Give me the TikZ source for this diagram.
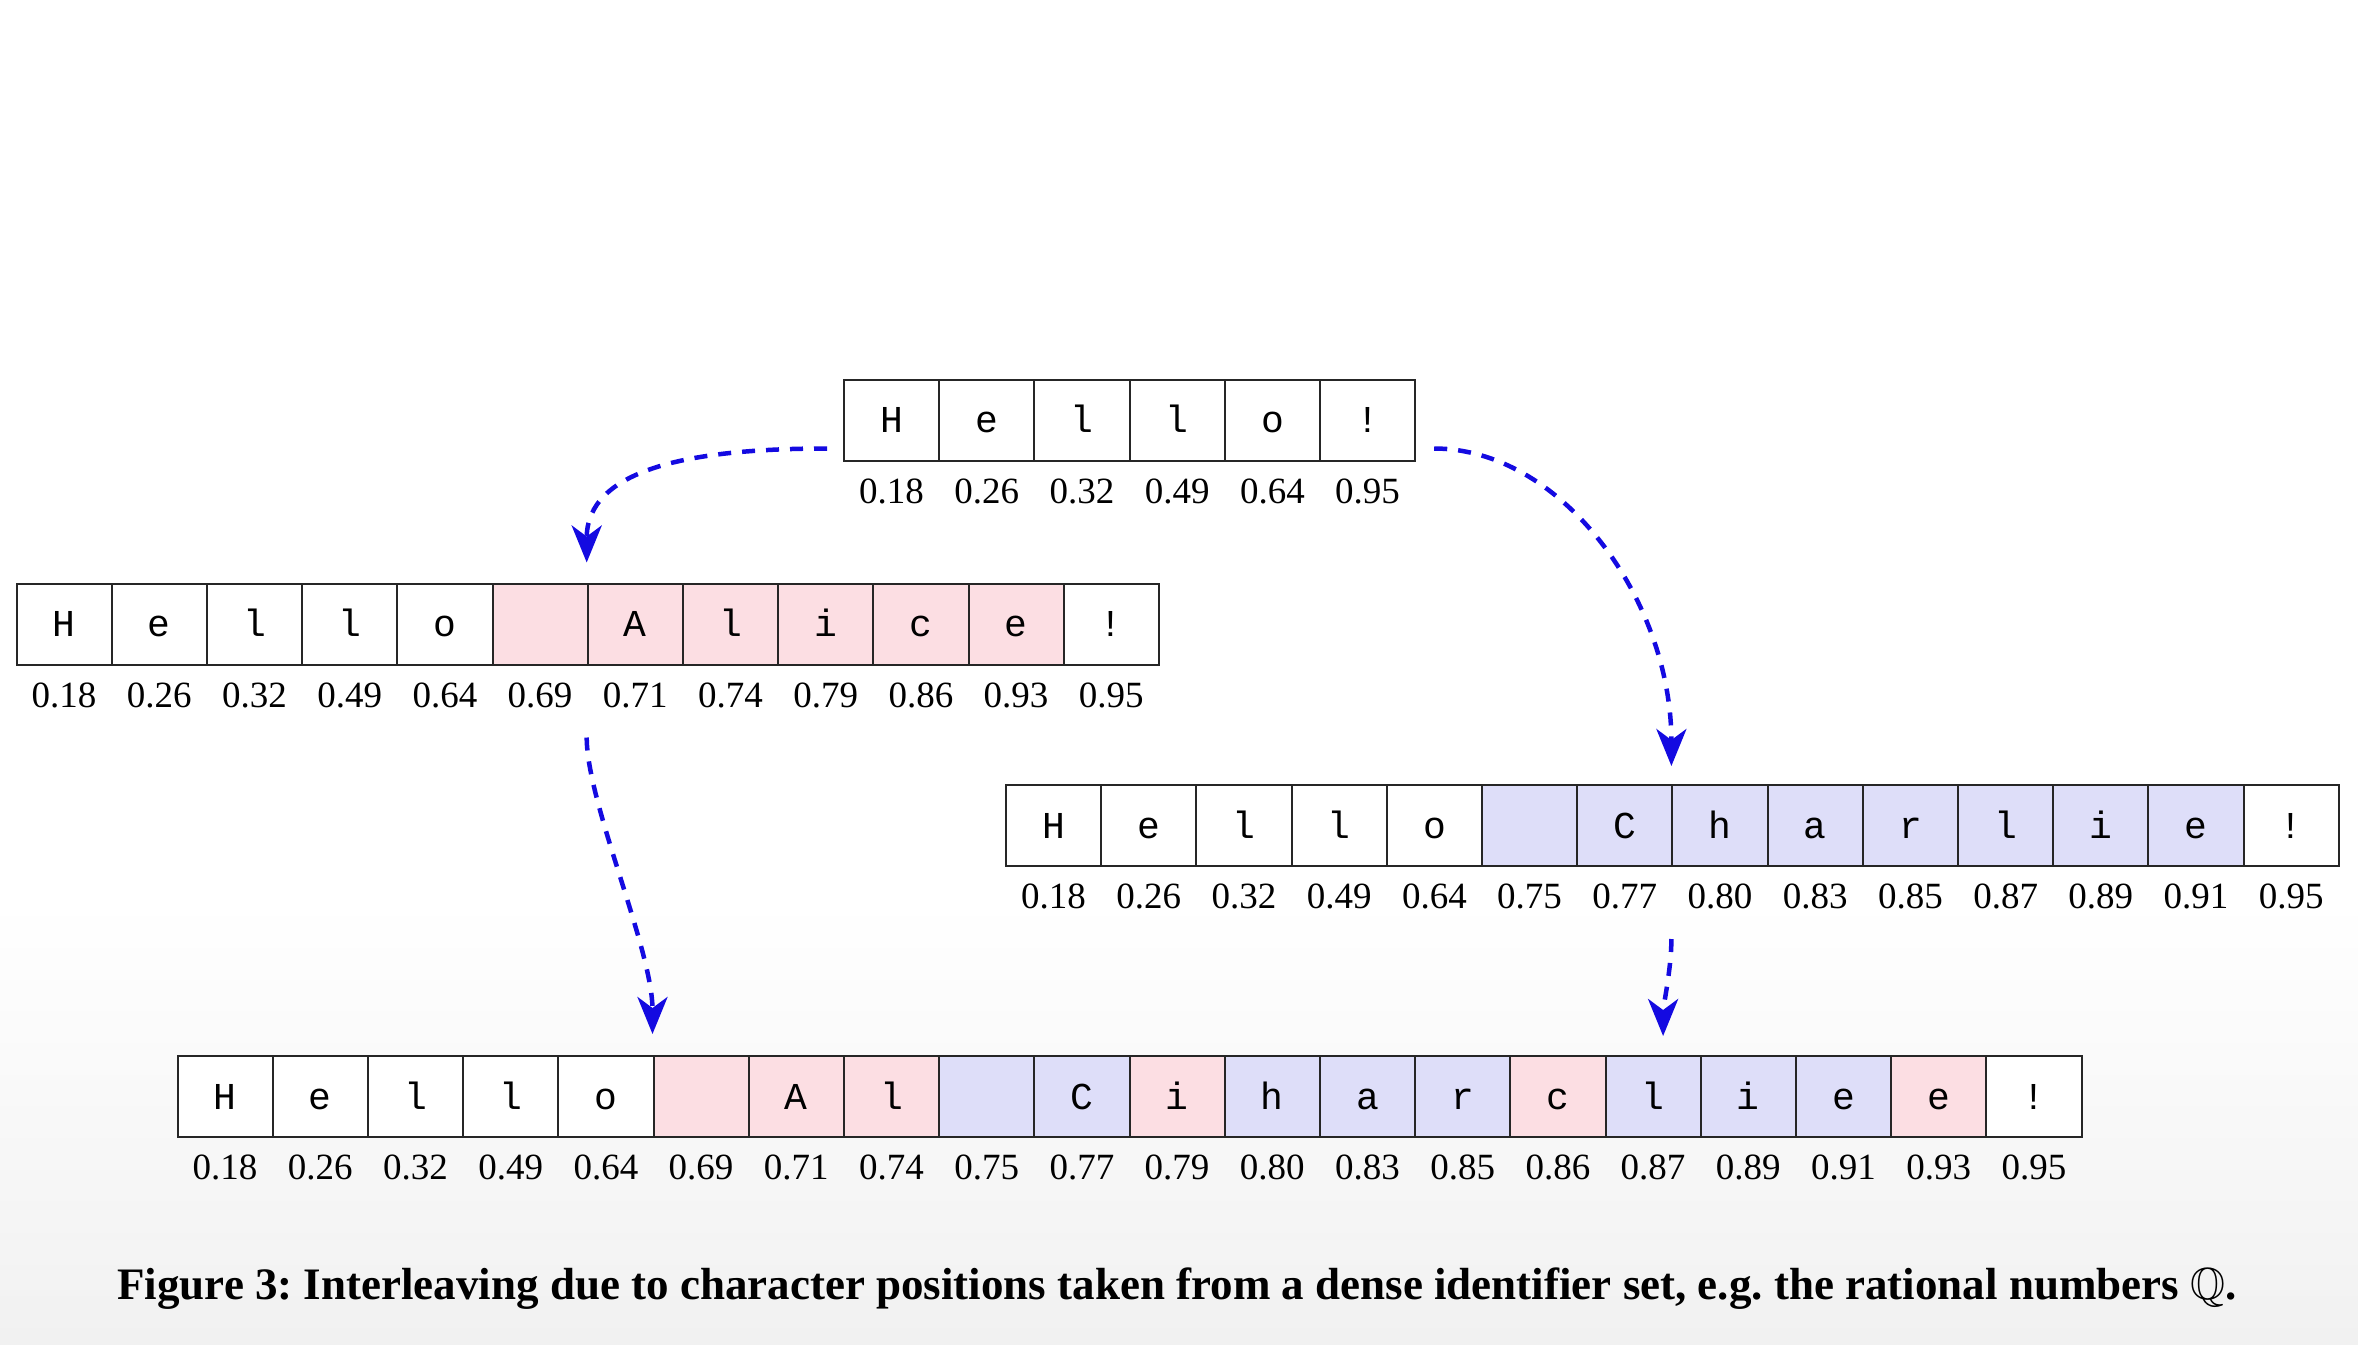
\documentclass[tikz,border=0pt]{standalone}
\usepackage{fontspec}
\usepackage{amssymb}
\setmainfont{Liberation Serif}
\setmonofont{Liberation Mono}
\usetikzlibrary{arrows.meta,calc}
\definecolor{pinkc}{RGB}{252,222,227}
\definecolor{bluec}{RGB}{222,222,249}
\definecolor{arrowblue}{RGB}{20,10,225}
\tikzset{
  cell/.style={draw=black!85, line width=2pt, minimum width=95.2pt, minimum height=81pt,
    inner sep=0pt, text height=25pt, text depth=0pt,
    font=\ttfamily\fontsize{38}{46}\selectfont},
  poslabel/.style={inner sep=0pt, text height=25pt, text depth=0pt,
    font=\fontsize{37}{43}\selectfont},
  flow/.style={draw=arrowblue, line width=4.5pt, dash pattern=on 13pt off 11pt,
    -{Stealth[length=37pt,width=30pt,inset=11pt]}}
}
\newcommand{\cellrow}[4]{% name, left, top, list
  \foreach \ch/\lab/\col [count=\i] in {#4} {
    \node[cell, fill=\col] (#1\i) at ({#2+95.2*(\i-0.5)}, {#3+40.5}) {\ch};
    \node[poslabel] (#1l\i) at ({#2+95.2*(\i-0.5)}, {#3+111}) {\lab};
  }
}
\begin{document}
\frenchspacing
\begin{tikzpicture}[x=1pt,y=-1pt]
\useasboundingbox (0,0) rectangle (2358,1344);
\fill[white] (0,0) rectangle (2358,1344);
\shade[top color=white, bottom color=gray!11] (0,900) rectangle (2358,1344);

\cellrow{T}{844}{379.5}{H/0.18/white, e/0.26/white, l/0.32/white, l/0.49/white, o/0.64/white, !/0.95/white}
\cellrow{A}{16.5}{583.5}{H/0.18/white, e/0.26/white, l/0.32/white, l/0.49/white, o/0.64/white, {}/0.69/pinkc, A/0.71/pinkc, l/0.74/pinkc, i/0.79/pinkc, c/0.86/pinkc, e/0.93/pinkc, !/0.95/white}
\cellrow{C}{1006}{785}{H/0.18/white, e/0.26/white, l/0.32/white, l/0.49/white, o/0.64/white, {}/0.75/bluec, C/0.77/bluec, h/0.80/bluec, a/0.83/bluec, r/0.85/bluec, l/0.87/bluec, i/0.89/bluec, e/0.91/bluec, !/0.95/white}
\cellrow{M}{177.5}{1056}{H/0.18/white, e/0.26/white, l/0.32/white, l/0.49/white, o/0.64/white, {}/0.69/pinkc, A/0.71/pinkc, l/0.74/pinkc, {}/0.75/bluec, C/0.77/bluec, i/0.79/pinkc, h/0.80/bluec, a/0.83/bluec, r/0.85/bluec, c/0.86/pinkc, l/0.87/bluec, i/0.89/bluec, e/0.91/bluec, e/0.93/pinkc, !/0.95/white}

\coordinate (s1) at ($(T1.south west)+(-16,-13)$);
\coordinate (e1) at ($(A7.north west)+(0,-20)$);
\coordinate (s2) at ($(T6.south east)+(18,-13)$);
\coordinate (e2) at ($(C8.north west)+(0,-18)$);
\coordinate (s3) at ($(A7.south west)+(0,72)$);
\coordinate (e3) at ($(M6.north west)+(0,-21)$);
\coordinate (s4) at ($(C8.south west)+(0,72)$);
\coordinate (e4) at ($(M16.north)+(10,-19)$);

\draw[flow] (s1) .. controls +(-138,0) and +(0,-93) .. (e1);
\draw[flow] (s2) .. controls +(127,0) and +(0,-167) .. (e2);
\draw[flow] (s3) .. controls +(0,65) and +(0,-85) .. (e3);
\draw[flow] (s4) .. controls +(0,30) and +(0,-30) .. (e4);

\node[font=\bfseries\fontsize{45}{52}\selectfont, inner sep=0pt] (cap) at (1177,1289)
  {Figure 3: Interleaving due to character positions taken from a dense identifier set, e.g. the rational numbers $\mathbb{Q}$.};
\end{tikzpicture}
\end{document}
